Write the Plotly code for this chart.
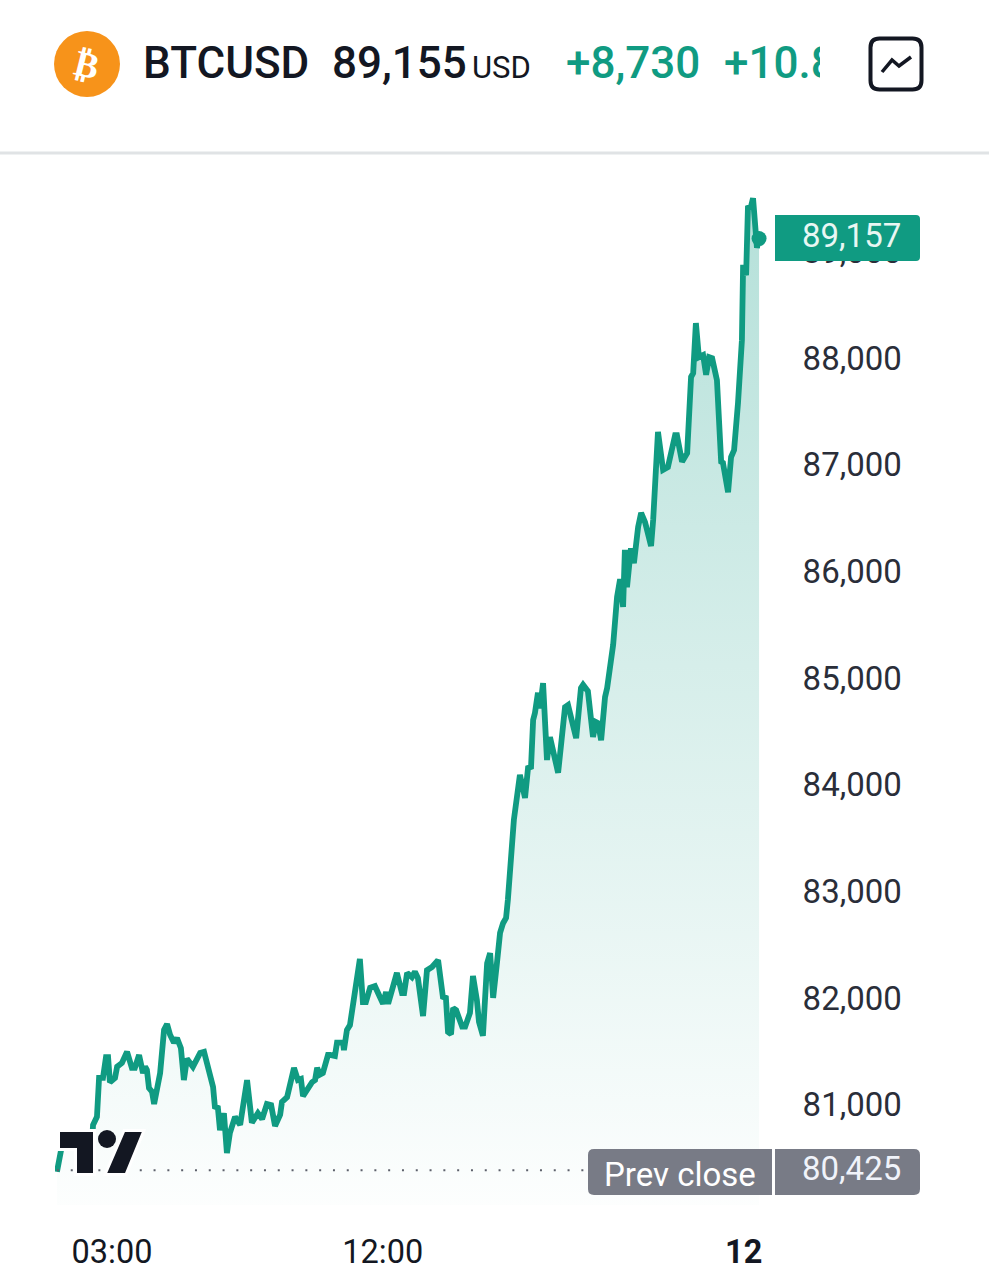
import plotly.graph_objects as go

W, H = 989, 1280
GREEN = "#109B82"
DARK = "#131722"
GREY = "#787B86"

symbol = "BTCUSD"
last_price = "89,155"
currency = "USD"
change = "+8,730"
change_pct = "+10.85%"
live_price = 89157
prev_close = 80425

hours = [1.17,1.27,1.34,1.77,2.10,2.34,2.37,2.5,2.57,2.7,2.8,2.87,2.93,3.1,3.17,3.33,3.5,3.66,3.76,3.9,4.03,4.1,4.16,4.23,4.33,4.4,4.6,4.73,4.83,4.93,5.06,5.16,5.29,5.39,5.49,5.69,5.93,6.06,6.36,6.42,6.52,6.59,6.72,6.82,6.92,7.09,7.26,7.49,7.65,7.85,7.99,8.15,8.29,8.42,8.59,8.65,8.82,9.05,9.18,9.28,9.35,9.65,9.75,9.82,9.91,10.01,10.18,10.25,10.41,10.48,10.68,10.71,10.81,10.91,11.08,11.24,11.34,11.44,11.58,11.74,12.01,12.11,12.18,12.47,12.64,12.71,12.81,12.97,13.07,13.17,13.34,13.47,13.64,13.84,14,14.1,14.17,14.27,14.34,14.44,14.64,14.74,14.9,15,15.13,15.2,15.33,15.47,15.57,15.67,15.8,15.9,16,16.1,16.16,16.26,16.36,16.56,16.73,16.83,16.93,17,17.06,17.16,17.23,17.33,17.46,17.56,17.83,18.06,18.16,18.43,18.59,18.66,18.82,18.99,19.09,19.16,19.26,19.39,19.46,19.66,19.79,19.89,19.99,20.05,20.12,20.25,20.35,20.49,20.59,20.72,20.92,20.99,21.15,21.32,21.48,21.72,21.78,21.95,22.12,22.25,22.32,22.41,22.51,22.65,22.75,22.85,22.95,23.11,23.25,23.31,23.48,23.58,23.68,23.81,23.94,23.98,24.08,24.14,24.24,24.31,24.38,24.44,24.51]
prices = [80410,80550,80662,80710,80662,80710,80850,80925,81290,81290,81485,81485,81250,81290,81395,81430,81535,81385,81385,81505,81335,81395,81365,81195,81160,81045,81335,81740,81795,81695,81620,81665,81570,81270,81470,81395,81525,81535,81205,81020,81010,80800,80960,80585,80775,80925,80850,81270,80870,80960,80905,81045,81035,80840,80945,81065,81110,81385,81270,81280,81120,81250,81270,81385,81320,81335,81505,81505,81495,81620,81620,81550,81740,81785,82085,82405,82000,82000,82135,82150,81985,82095,81985,82275,82085,82085,82275,82235,82285,82225,81870,82300,82330,82395,82050,82040,81720,81700,81945,81925,81770,81770,81900,82245,82020,81815,81685,82365,82460,82040,82375,82650,82740,82790,82960,83425,83710,84130,83915,84195,84205,84645,84710,84900,84755,84990,84270,84485,84150,84765,84785,84475,84945,84975,84915,84485,84625,84615,84455,84860,84945,85350,85800,85965,85705,86240,85890,86255,86115,86455,86585,86500,86275,86520,87345,86990,87015,87315,87315,87065,87145,87860,87895,88365,88045,88065,87880,88045,88035,87830,87065,87055,86780,87110,87175,87615,88205,88910,88815,89445,89455,89535,89235,89070,89160]

price_ticks = [81000, 82000, 83000, 84000, 85000, 86000, 87000, 88000, 89000]
price_labels = ["81,000", "82,000", "83,000", "84,000", "85,000", "86,000", "87,000", "88,000", "89,000"]
time_ticks = [3, 12, 24]
time_labels = ["03:00", "12:00", "<b>12</b>"]


def px(x, y):
    return f"{x / W:.5f} {1 - y / H:.5f}"


def poly(points):
    return "M " + " L ".join(px(x, y) for x, y in points) + " Z"


def badge(x0, y0, x1, y1, rl, rr):
    return (f"M {px(x0 + rl, y0)} L {px(x1 - rr, y0)} Q {px(x1, y0)} {px(x1, y0 + rr)} "
            f"L {px(x1, y1 - rr)} Q {px(x1, y1)} {px(x1 - rr, y1)} L {px(x0 + rl, y1)} "
            f"Q {px(x0, y1)} {px(x0, y1 - rl)} L {px(x0, y0 + rl)} Q {px(x0, y0)} {px(x0 + rl, y0)} Z")


def shape_path(path, color, line=None, lw=0, layer="above"):
    return dict(type="path", xref="paper", yref="paper", path=path, fillcolor=color,
                line=dict(color=line or color, width=lw), layer=layer)


def label(x, y, text, size, color, anchor="left", weight=400):
    return dict(x=x / W, y=1 - y / H, xref="paper", yref="paper", text=text, showarrow=False,
                xanchor=anchor, yanchor="middle",
                font=dict(family="Roboto", size=size, color=color, weight=weight))


fig = go.Figure()

fig.add_trace(go.Scatter(
    x=hours, y=prices, mode="lines", line=dict(color=GREEN, width=5.8, shape="linear"),
    fill="tozeroy", fillcolor="rgba(8,153,129,0.2)",
    fillgradient=dict(type="vertical", start=80100, stop=89157,
                      colorscale=[[0, "rgba(8,153,129,0.01)"], [1, "rgba(8,153,129,0.29)"]]),
    showlegend=False, hoverinfo="skip"))

# dotted previous close level
fig.add_trace(go.Scatter(
    x=[hours[0], 18.82], y=[prev_close, prev_close], mode="lines",
    line=dict(color="#5D606B", width=2, dash="2px,11.8px"), showlegend=False, hoverinfo="skip"))

fig.add_trace(go.Scatter(
    x=hours[-1:], y=[live_price], mode="markers", marker=dict(color=GREEN, size=15),
    showlegend=False, hoverinfo="skip"))

# clipped percent change, same as in the header of the widget
fig.add_trace(go.Scatter(
    x=[724], y=[67], text=[change_pct], mode="text", textposition="middle right", xaxis="x2", yaxis="y2",
    textfont=dict(family="Roboto", size=44, color=GREEN, weight=500), cliponaxis=True,
    showlegend=False, hoverinfo="skip"))

shapes = [
    dict(type="circle", xref="paper", yref="paper", x0=54 / W, x1=120 / W, y0=1 - 97 / H, y1=1 - 31 / H,
         fillcolor="#F7931A", line=dict(width=0)),
    dict(type="line", xref="paper", yref="paper", x0=0, x1=1, y0=1 - 153 / H, y1=1 - 153 / H,
         line=dict(color="#E0E3E5", width=3)),
    dict(type="path", xref="paper", yref="paper", path=badge(870.5, 38.5, 921.5, 89.5, 9, 9),
         fillcolor="rgba(0,0,0,0)", line=dict(color=DARK, width=4)),
    dict(type="path", xref="paper", yref="paper",
         path="M " + " L ".join(px(x, y) for x, y in [(882, 72), (892, 60), (899, 66), (911, 57)]),
         line=dict(color=DARK, width=3.5)),
    # TradingView mark
    shape_path(poly([(58.5, 1130.5), (94.5, 1130.5), (94.5, 1174.5), (75.5, 1174.5), (75.5, 1149.5), (58.5, 1149.5)]),
               DARK, "white", 3),
    shape_path(poly([(124, 1130.5), (144, 1130.5), (126, 1174.5), (105, 1174.5)]), DARK, "white", 3),
    dict(type="circle", xref="paper", yref="paper", x0=98 / W, x1=116 / W, y0=1 - 1148 / H, y1=1 - 1130 / H,
         fillcolor=DARK, line=dict(width=0), layer="above"),
    # price badges
    shape_path(badge(775, 215, 920, 261, 0, 4), GREEN),
    shape_path(badge(588, 1149, 772, 1195, 6, 0), GREY),
    shape_path(badge(775, 1149, 920, 1195, 0, 6), GREY),
]

annotations = [
    dict(x=87 / W, y=1 - 64 / H, xref="paper", yref="paper", text="<b>₿</b>", showarrow=False, textangle=14,
         xanchor="center", yanchor="middle", font=dict(family="DejaVu Sans", size=36, color="white")),
    label(141, 63, symbol, 44, DARK, weight=500),
    label(330, 63, last_price, 44, DARK, weight=500),
    label(470, 67, currency, 31, DARK),
    label(564, 63, change, 44, GREEN, weight=500),
    label(903, 235, f"{live_price:,}", 33, "#E8F7F3", "right"),
    label(680, 1174, "Prev close", 33, "white", "center"),
    label(903, 1168, f"{prev_close:,}", 33, "#F0F3FA", "right"),
]

fig.update_layout(
    width=W, height=H, margin=dict(l=0, r=0, t=0, b=0),
    paper_bgcolor="white", plot_bgcolor="white",
    shapes=shapes, annotations=annotations,
    xaxis=dict(domain=[55 / W, 775 / W], range=[1.105, 25.04], tickmode="array", tickvals=time_ticks,
               ticktext=time_labels, showgrid=False, zeroline=False, showline=False,
               ticks="outside", ticklen=18, tickcolor="rgba(0,0,0,0)",
               tickfont=dict(family="Roboto", size=32.5, color=DARK)),
    yaxis=dict(domain=[1 - 1204.9 / H, 1 - 175.3 / H], range=[80100, 89750], side="right",
               tickmode="array", tickvals=price_ticks, ticktext=price_labels, showgrid=False,
               zeroline=False, showline=False, ticks="outside", ticklen=20, tickcolor="rgba(0,0,0,0)",
               ticklabelshift=-4, tickfont=dict(family="Roboto", size=33, color="#2A2E39")),
    xaxis2=dict(domain=[0, 820 / W], range=[0, 820], visible=False, anchor="y2"),
    yaxis2=dict(domain=[1 - 130 / H, 1], range=[130, 0], visible=False, anchor="x2"),
)

# page body has a default 8px margin, drop it so the figure fills the window
fig.write_html("out.html", config=dict(displayModeBar=False), post_script="document.body.style.margin='0';")
